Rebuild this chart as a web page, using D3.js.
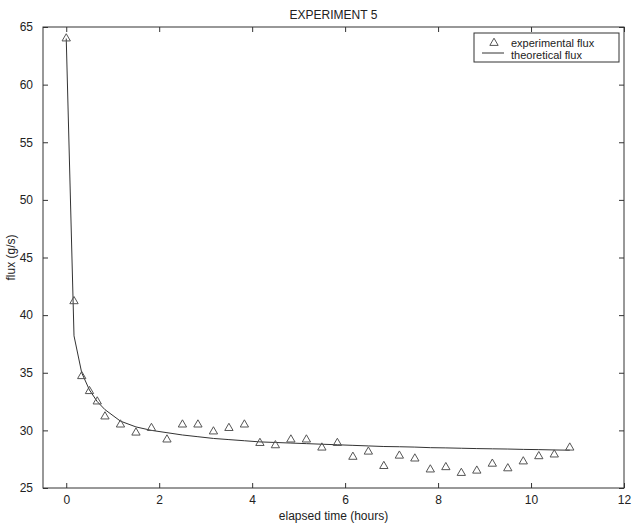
<!DOCTYPE html>
<html>
<head>
<meta charset="utf-8">
<script src="https://cdn.jsdelivr.net/npm/d3@7"></script>
<style>
  body { margin: 0; background: #fff; }
  svg { font-family: "Liberation Sans", Arial, sans-serif; }
</style>
</head>
<body>
<svg id="chart" width="632" height="528"></svg>
<script>
// elapsed time (hours)
var times = [0, 0.167, 0.333, 0.5, 0.667, 0.833,
  1.167, 1.5, 1.833, 2.167, 2.5, 2.833, 3.167, 3.5, 3.833, 4.167,
  4.5, 4.833, 5.167, 5.5, 5.833, 6.167, 6.5, 6.833, 7.167, 7.5,
  7.833, 8.167, 8.5, 8.833, 9.167, 9.5, 9.833, 10.167, 10.5, 10.833];

// measured flux (g/s)
var experimental = [64.0, 41.2, 34.7, 33.4, 32.5, 31.2,
  30.5, 29.8, 30.2, 29.2, 30.5, 30.5, 29.9, 30.2, 30.5, 28.9,
  28.7, 29.2, 29.2, 28.5, 28.9, 27.7, 28.15, 26.9, 27.8, 27.55,
  26.6, 26.8, 26.3, 26.5, 27.1, 26.7, 27.3, 27.75, 27.9, 28.5];

// model flux (g/s)
var theoretical = [64.0, 38.2, 35.0, 33.5, 32.5, 31.8,
  30.8, 30.3, 30.0, 29.8, 29.6, 29.45, 29.3, 29.2, 29.1, 29.0,
  28.95, 28.9, 28.85, 28.8, 28.75, 28.7, 28.65, 28.6, 28.58, 28.55,
  28.5, 28.48, 28.45, 28.42, 28.4, 28.38, 28.35, 28.33, 28.3, 28.28];

var xTicks = [0, 2, 4, 6, 8, 10, 12];
var yTicks = [25, 30, 35, 40, 45, 50, 55, 60, 65];

var svg = d3.select("#chart");
var margin = { left: 43, top: 27, right: 8, bottom: 40 };
var width = 632 - margin.left - margin.right;
var height = 528 - margin.top - margin.bottom;

var x = d3.scaleLinear().domain([-0.5, 12]).range([0, width]);
var y = d3.scaleLinear().domain([25, 65]).range([height, 0]);

var g = svg.append("g")
    .attr("transform", "translate(" + margin.left + "," + margin.top + ")");

var axisColor = "#333";
var tickLen = 5;

function styleAxis(sel, showLabels) {
  sel.select(".domain").remove();
  sel.selectAll(".tick line").attr("stroke", axisColor);
  sel.selectAll(".tick text")
      .attr("fill", "#222")
      .style("font-size", "12px")
      .style("display", showLabels ? null : "none");
}

// bottom / top
g.append("g")
    .attr("transform", "translate(0," + height + ")")
    .call(d3.axisBottom(x).tickValues(xTicks).tickSizeInner(-tickLen).tickPadding(7).tickFormat(d3.format("d")))
    .call(styleAxis, true);
g.append("g")
    .call(d3.axisTop(x).tickValues(xTicks).tickSizeInner(-tickLen))
    .call(styleAxis, false);

// left / right
g.append("g")
    .call(d3.axisLeft(y).tickValues(yTicks).tickSizeInner(-tickLen).tickPadding(tickLen + 5).tickFormat(d3.format("d")))
    .call(styleAxis, true);
g.append("g")
    .attr("transform", "translate(" + width + ",0)")
    .call(d3.axisRight(y).tickValues(yTicks).tickSizeInner(-tickLen))
    .call(styleAxis, false);

// frame
g.append("rect")
    .attr("width", width)
    .attr("height", height)
    .attr("fill", "none")
    .attr("stroke", axisColor)
    .attr("stroke-width", 1);

// theoretical curve
var line = d3.line()
    .x(function(d, i) { return x(times[i]); })
    .y(function(d) { return y(d); });

g.append("path")
    .datum(theoretical)
    .attr("fill", "none")
    .attr("stroke", "#333")
    .attr("stroke-width", 1)
    .attr("d", line);

// experimental triangles
var tri = d3.symbol().type(d3.symbolTriangle).size(30);

g.selectAll(".pt")
    .data(experimental)
    .enter().append("path")
    .attr("class", "pt")
    .attr("transform", function(d, i) { return "translate(" + x(times[i]) + "," + y(d) + ")"; })
    .attr("d", tri)
    .attr("fill", "none")
    .attr("stroke", "#555")
    .attr("stroke-width", 1);

// title and labels
svg.append("text")
    .attr("x", margin.left + width / 2)
    .attr("y", 19)
    .attr("text-anchor", "middle")
    .style("font-size", "12px")
    .attr("fill", "#222")
    .text("EXPERIMENT 5");

svg.append("text")
    .attr("x", margin.left + width / 2)
    .attr("y", 520)
    .attr("text-anchor", "middle")
    .style("font-size", "12px")
    .attr("fill", "#222")
    .text("elapsed time (hours)");

svg.append("text")
    .attr("transform", "translate(15," + (margin.top + height / 2) + ") rotate(-90)")
    .attr("text-anchor", "middle")
    .style("font-size", "12px")
    .attr("fill", "#222")
    .text("flux (g/s)");

// legend
var legend = svg.append("g").attr("transform", "translate(474,33)");
legend.append("rect")
    .attr("width", 145)
    .attr("height", 29)
    .attr("fill", "#fff")
    .attr("stroke", axisColor);
legend.append("path")
    .attr("transform", "translate(20,10)")
    .attr("d", tri)
    .attr("fill", "none")
    .attr("stroke", "#555");
legend.append("line")
    .attr("x1", 8).attr("x2", 30)
    .attr("y1", 20).attr("y2", 20)
    .attr("stroke", "#333");
legend.append("text")
    .attr("x", 37).attr("y", 14)
    .style("font-size", "11px")
    .attr("fill", "#222")
    .text("experimental flux");
legend.append("text")
    .attr("x", 37).attr("y", 25.5)
    .style("font-size", "11px")
    .attr("fill", "#222")
    .text("theoretical flux");
</script>
</body>
</html>
